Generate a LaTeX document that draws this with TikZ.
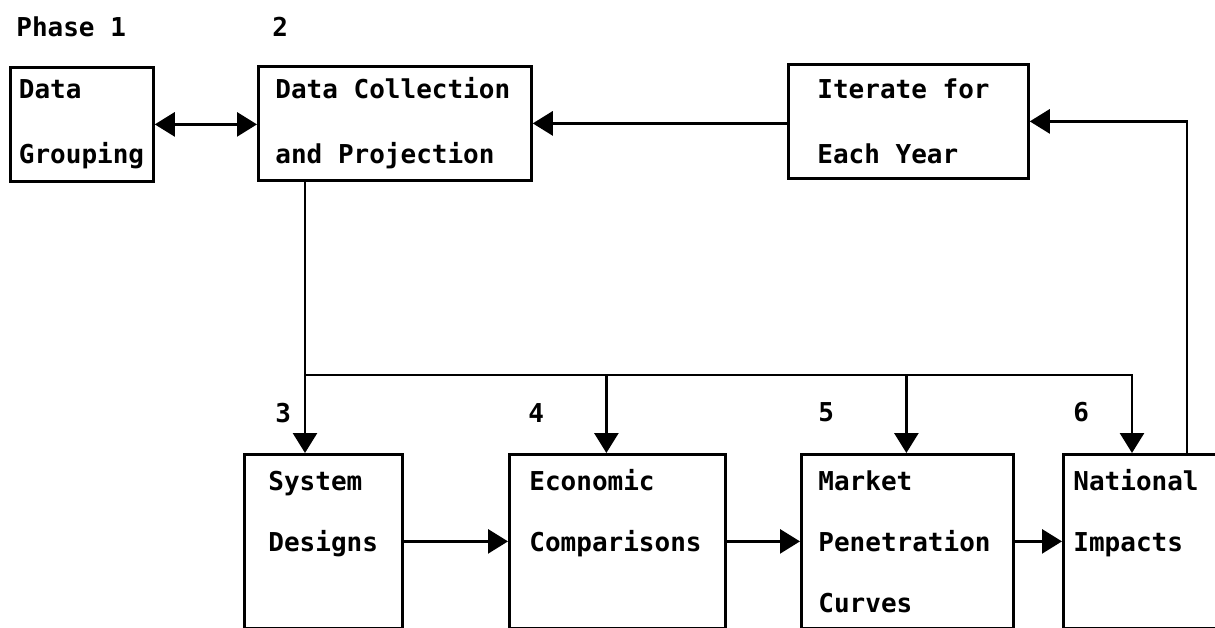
\documentclass[tikz,border=0pt]{standalone}
\usepackage{fontspec}
\newfontfamily\typer{DejaVu Sans Mono}
\usetikzlibrary{positioning, arrows.meta, calc}
\hyphenpenalty=10000

\begin{document}
\begin{tikzpicture}[
    x=0.02cm, y=-0.02cm, % one unit is one pixel of the scan
    % Styles
    box/.style={ % phase box, text set from its top left
        rectangle,
        draw,
        line width=1.6pt,
        anchor=north west,
        align=left,
        minimum height=2.28cm,
        font=\typer\bfseries\fontsize{14.8}{37}\selectfont,
        execute at begin node={\spaceskip=0.602em\relax}
    },
    lowbox/.style={ % boxes of the lower row
        box,
        minimum height=3.48cm,
        font=\typer\bfseries\fontsize{14.8}{34.7}\selectfont
    },
    num/.style={ % phase numbers
        anchor=base west,
        inner sep=0pt,
        font=\typer\bfseries\fontsize{14.8}{18}\selectfont
    },
    arrow/.style={
        -{Triangle[length=0.4cm, width=0.48cm]},
        line width=1.6pt
    },
    twoway/.style={ % arrow with heads at both ends
        arrow,
        {Triangle[length=0.4cm, width=0.48cm]}-{Triangle[length=0.4cm, width=0.48cm]}
    }
]

    \clip (0,0) rectangle (1215,628);

    % Upper row
    \node[box, minimum width=2.86cm, text width=2.52cm, inner xsep=0.17cm] (dg) at (9,66) {Data\\Grouping};
    \node[box, minimum width=5.46cm, text width=4.78cm, inner xsep=0.34cm] (dc) at (257,65) {Data Collection\\and Projection};
    \node[box, minimum width=4.8cm, text width=3.64cm, inner xsep=0.58cm] (iter) at (787,63) {Iterate for\\Each Year};

    % Lower row
    \node[lowbox, minimum width=3.16cm, text width=2.2cm, inner xsep=0.48cm] (sys) at (243,453) {System\\Designs\\\mbox{}};
    \node[lowbox, minimum width=4.32cm, text width=3.52cm, inner xsep=0.4cm] (econ) at (508,453) {Economic\\Comparisons\\\mbox{}};
    \node[lowbox, minimum width=4.24cm, text width=3.56cm, inner xsep=0.34cm] (mkt) at (800,453) {Market\\Penetration\\Curves};
    \node[lowbox, minimum width=3.56cm, text width=3.16cm, inner xsep=0.2cm] (nat) at (1062,453) {National\\Impacts\\\mbox{}};

    % Phase numbers
    \node[num] (p1) at (16,37) {Phase 1};
    \node[num] (p2) at (272,37) {2};
    \node[num] (p3) at (275,423) {3};
    \node[num] (p4) at (528,423) {4};
    \node[num] (p5) at (818,422) {5};
    \node[num] (p6) at (1073,422) {6};

    % Upper connections
    \draw[twoway] (dg.east) -- (dg.east -| dc.west);
    \draw[arrow] (dc.east -| iter.west) -- (dc.east);
    \coordinate (natout) at ($(nat.north west)+(125,0)$);
    \draw[arrow] (natout) |- (iter.east);

    % Distribution line from phase 2
    \coordinate (split) at (305,375);
    \coordinate (econin) at ($(econ.north)+(-11,0)$);
    \coordinate (mktin) at ($(mkt.north)+(-1,0)$);
    \coordinate (natin) at ($(nat.north west)+(70,0)$);
    \draw[arrow] (dc.south -| split) -- (split |- sys.north);
    \draw[arrow] (split) -| (natin);
    \foreach \t in {econin, mktin} {
        \draw[arrow] (split -| \t) -- (\t);
    }

    % Lower chain
    \foreach \a/\b in {sys/econ, econ/mkt, mkt/nat} {
        \draw[arrow] (\a.east) -- (\b.west);
    }
\end{tikzpicture}
\end{document}
